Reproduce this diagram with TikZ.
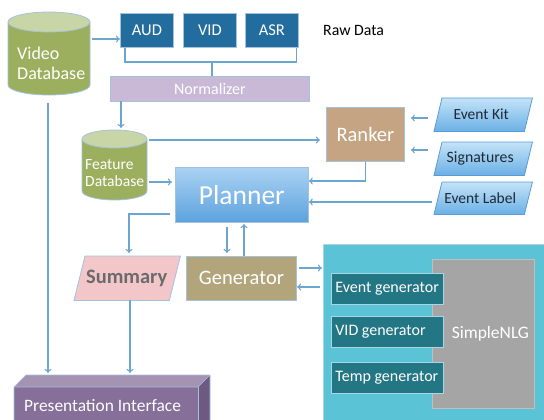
\documentclass[tikz,border=0pt]{standalone}
\usepackage{fontspec}
\setmainfont{Carlito}
\usetikzlibrary{arrows.meta,calc}
\definecolor{arr}{HTML}{6BA5D0}
\definecolor{vdb}{HTML}{9BAF5F}
\definecolor{vdbtop}{HTML}{C8D5A6}
\definecolor{bord}{HTML}{A3C2DE}
\definecolor{aud}{HTML}{236C9E}
\definecolor{norm}{HTML}{C9B9D7}
\definecolor{rank}{HTML}{C4A482}
\definecolor{partop}{HTML}{C4E3F8}
\definecolor{parbot}{HTML}{6AB0E5}
\definecolor{parbord}{HTML}{5B9BD5}
\definecolor{plantop}{HTML}{AAD2F3}
\definecolor{planbot}{HTML}{5CA2DD}
\definecolor{gen}{HTML}{B2A57C}
\definecolor{summ}{HTML}{F3C6CA}
\definecolor{pfront}{HTML}{866F99}
\definecolor{ptop}{HTML}{A493B2}
\definecolor{pside}{HTML}{6E5983}
\definecolor{cont}{HTML}{5BC3D6}
\definecolor{contbord}{HTML}{A9D5E5}
\definecolor{grayb}{HTML}{A5A5A5}
\definecolor{genbox}{HTML}{237683}
\definecolor{dtext}{HTML}{1F2A36}
\tikzset{
  fs/.style={font=\fontsize{#1}{#1}\selectfont},
  conn/.style={draw=arr, line width=1.1pt, -{To[length=4pt,width=7pt]}},
  plainline/.style={draw=arr, line width=1.1pt},
  boxnode/.style={draw=bord, line width=0.8pt, inner sep=0pt, anchor=north west},
  rawbox/.style={boxnode, fill=aud, text=white, minimum width=53pt, minimum height=34pt, fs=16.5},
  genitem/.style={boxnode, draw=contbord, fill=genbox, text=white, minimum width=112pt, minimum height=31pt, fs=16},
  para/.style={draw=parbord, line width=0.8pt, top color=partop, bottom color=parbot},
}
\begin{document}
\begin{tikzpicture}[x=1pt,y=-1pt]
\useasboundingbox (0,0) rectangle (544,420);

% Video Database cylinder
\fill[vdb] (8,22) -- (8,85) arc[start angle=180,end angle=0,x radius=41,y radius=10] -- (90,22) -- cycle;
\draw[bord,line width=0.8pt] (8,22) -- (8,85) arc[start angle=180,end angle=0,x radius=41,y radius=10] -- (90,22);
\draw[bord,line width=0.8pt,fill=vdbtop] (49,22) ellipse[x radius=41,y radius=10];
\node[anchor=north west, inner sep=0pt, minimum width=82pt, minimum height=83pt] (vdb) at (8,12) {};
\node[anchor=west, text=white, fs=18, align=left, inner sep=0pt] (vdbt) at (17,63) {Video\\[2pt]Database};

% Raw data boxes
\node[rawbox] (aud) at (120,13) {AUD};
\node[rawbox] (vid) at (183,13) {VID};
\node[rawbox] (asr) at (245,13) {ASR};
\node[anchor=west, fs=15.8, inner sep=0pt] (raw) at (323,30) {Raw Data};

% Normalizer
\node[boxnode, fill=norm, text=white, minimum width=199pt, minimum height=25pt, fs=16] (norm) at (110,76) {Normalizer};

% Feature Database cylinder
\fill[vdb] (82,139) -- (82,191) arc[start angle=180,end angle=0,x radius=32.5,y radius=9] -- (147,139) -- cycle;
\draw[bord,line width=0.8pt] (82,139) -- (82,191) arc[start angle=180,end angle=0,x radius=32.5,y radius=9] -- (147,139);
\draw[bord,line width=0.8pt,fill=vdbtop] (114.5,139) ellipse[x radius=32.5,y radius=9];
\node[anchor=north west, inner sep=0pt, minimum width=65pt, minimum height=70pt] (fdb) at (82,130) {};
\node[anchor=west, text=white, fs=15.6, align=left, inner sep=0pt] (fdbt) at (85,173) {Feature\\[1pt]Database};

% Ranker
\node[boxnode, fill=rank, text=white, minimum width=78pt, minimum height=54pt, fs=20.5] (rank) at (326,107) {Ranker};

% Parallelograms on right
\node[anchor=north west, inner sep=0pt, minimum width=90pt, minimum height=33pt] (ek) at (438,98) {};
\draw[para] ($(ek.south west)+(-4,0)$) -- ($(ek.north west)+(4,0)$) -- ($(ek.north east)+(4,0)$) -- ($(ek.south east)+(-4,0)$) -- cycle;
\node[fs=15.5, text=dtext] at ([xshift=-2pt]ek.center) {Event Kit};
\node[anchor=north west, inner sep=0pt, minimum width=90pt, minimum height=33pt] (sig) at (438,142) {};
\draw[para] ($(sig.south west)+(-4,0)$) -- ($(sig.north west)+(4,0)$) -- ($(sig.north east)+(4,0)$) -- ($(sig.south east)+(-4,0)$) -- cycle;
\node[fs=15.8, text=dtext] at ([xshift=-3pt]sig.center) {Signatures};
\node[anchor=north west, inner sep=0pt, minimum width=90pt, minimum height=32pt] (el) at (438,182) {};
\draw[para] ($(el.south west)+(-4,0)$) -- ($(el.north west)+(4,0)$) -- ($(el.north east)+(4,0)$) -- ($(el.south east)+(-4,0)$) -- cycle;
\node[fs=15.5, text=dtext] at ([xshift=-3pt]el.center) {Event Label};

% Planner
\node[boxnode, draw=bord, top color=plantop, bottom color=planbot, text=white, minimum width=133pt, minimum height=55pt, fs=27.5] (plan) at (175,167) {Planner};

% Summary
\node[anchor=north west, inner sep=0pt, minimum width=95pt, minimum height=44pt] (sum) at (79,256) {};
\draw[draw=bord, line width=0.8pt, fill=summ] ($(sum.south west)+(-5,0)$) -- ($(sum.north west)+(6,0)$) -- ($(sum.north east)+(6,0)$) -- ($(sum.south east)+(-5,0)$) -- cycle;
\node[text=black!58] at (sum.center) {\fontsize{20.5}{20.5}\selectfont\bfseries Summary};

% Generator
\node[boxnode, fill=gen, text=white, minimum width=110pt, minimum height=44pt, fs=20.5] (gen) at (186,256) {Generator};

% SimpleNLG container
\node[boxnode, draw=contbord, fill=cont, minimum width=230pt, minimum height=185pt] (cont) at (323,244) {};
\node[boxnode, draw=black!25, fill=grayb, text=white, minimum width=102pt, minimum height=149pt, fs=17.5] (nlg) at (432,259) {\hspace*{14pt}SimpleNLG};
\node[genitem] (eg) at (331,273) {\makebox[104pt][l]{Event generator}};
\node[genitem] (vg) at (331,316) {\makebox[104pt][l]{VID generator}};
\node[genitem] (tg) at (331,362) {\makebox[104pt][l]{Temp generator}};

% Presentation interface (3D box)
\fill[ptop] (14,387) -- (26,375) -- (210,375) -- (198,387) -- cycle;
\fill[pside] (198,387) -- (210,375) -- (210,425) -- (198,425) -- cycle;
\node[anchor=north west, inner sep=0pt, minimum width=184pt, minimum height=40pt, fill=pfront] (pres) at (14,387) {};
\draw[bord, line width=0.6pt] (14,425) -- (14,387) -- (26,375) -- (210,375) -- (210,425);
\draw[bord, line width=0.6pt] (14,387) -- (198,387) -- (210,375);
\draw[bord, line width=0.6pt] (198,387) -- (198,425);
\node[anchor=west, text=white, fs=17.4, inner sep=0pt] (prest) at (24,406) {Presentation Interface};

% Connectors
\draw[conn] ([xshift=2pt]vdb.east |- 0,39) -- (aud.west |- 0,39);
\draw[plainline] ([xshift=5pt]aud.south west) |- (212,62) coordinate (br) -| ([xshift=-2pt]asr.south east);
\draw[plainline] (br) -- (br |- norm.north);
\draw[conn] (121,101) -- (121,128);
\draw[conn] (149,140) -- ([xshift=-6pt]rank.west |- 0,140);
\draw[conn] (149,182) -- ([xshift=-3pt]plan.west |- 0,182);
\draw[conn] ([xshift=-10pt]ek.west |- 0,118) -- ([xshift=6pt]rank.east |- 0,118);
\draw[conn] ([xshift=-10pt]sig.west |- 0,150) -- ([xshift=6pt]rank.east |- 0,150);
\draw[conn] (rank.south) |- (plan.east |- 0,181);
\draw[conn] ([xshift=-6pt]el.west |- 0,202) -- (plan.east |- 0,202);
\draw[conn] ([xshift=-5pt]plan.west |- 0,214) -| (129,253);
\draw[conn] (227,227) -- (227,253);
\draw[conn] (244,256) -- (244,224);
\draw[conn] (299,268) -- (322,268);
\draw[conn] (320,287) -- (297,287);
\draw[conn] (130,300) -- (130,373);
\draw[conn] (48,103) -- (48,373);
\end{tikzpicture}
\end{document}
